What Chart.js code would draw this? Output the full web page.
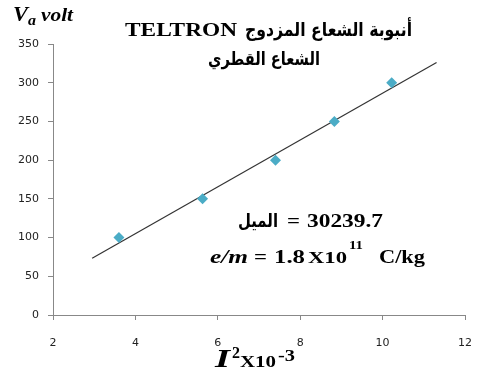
<!DOCTYPE html>
<html>
<head>
<meta charset="utf-8">
<script src="https://cdn.jsdelivr.net/npm/chart.js@4/dist/chart.umd.min.js"></script>
<style>
  html, body { margin: 0; padding: 0; background: #fff; }
  #wrap { width: 477px; height: 374px; position: relative; }
</style>
</head>
<body>
<div id="wrap"><canvas id="c" width="477" height="374"></canvas></div>
<script>
// Measurements: squared coil current (×10⁻³) against accelerating voltage
const currentSq = [3.60, 5.63, 7.40, 8.83, 10.22];
const voltage = [100, 150, 200, 250, 300];

// Fitted slope (quoted in the annotation as 30239.7) and the span of the fit line
const slopeLabel = '30239.7';
const fitSlope = parseFloat(slopeLabel) / 1000;
const fitRange = [2.95, 11.31];

const xTicks = [2, 4, 6, 8, 10, 12];
const yTicks = [0, 50, 100, 150, 200, 250, 300, 350];

// Least-squares line passes through the mean point
const meanX = currentSq.reduce((a, b) => a + b, 0) / currentSq.length;
const meanY = voltage.reduce((a, b) => a + b, 0) / voltage.length;
const fitIntercept = meanY - fitSlope * meanX;
const fitLine = fitRange.map(x => ({ x: x, y: fitIntercept + fitSlope * x }));

const points = currentSq.map((x, i) => ({ x: x, y: voltage[i] }));

const SERIF = "'Liberation Serif', 'DejaVu Serif', serif";
const ARABIC = "'DejaVu Sans', sans-serif";

// draws a run of text stretched to fill [x0, x1] on the given baseline
function span(ctx, text, font, x0, x1, baseline) {
  ctx.font = font;
  const w = ctx.measureText(text).width;
  ctx.save();
  ctx.translate(x0, baseline);
  ctx.scale((x1 - x0) / w, 1);
  ctx.textAlign = 'left';
  ctx.textBaseline = 'alphabetic';
  ctx.fillText(text, 0, 0);
  ctx.restore();
}

const labelsPlugin = {
  id: 'labels',
  afterDraw(chart) {
    const ctx = chart.ctx;
    ctx.save();
    ctx.fillStyle = '#000';

    // y axis title: V_a volt
    span(ctx, 'V', `italic bold 20px ${SERIF}`, 13, 28, 21);
    span(ctx, 'a', `italic bold 14px ${SERIF}`, 28, 36, 25);
    span(ctx, 'volt', `italic bold 18px ${SERIF}`, 41, 73, 21);

    // title
    span(ctx, 'TELTRON', `bold 18px ${SERIF}`, 125, 237, 36);
    span(ctx, 'أنبوبة الشعاع المزدوج', `bold 19px ${ARABIC}`, 245, 412, 36);
    span(ctx, 'الشعاع القطري', `bold 18px ${ARABIC}`, 208, 320, 65);

    // slope annotation
    span(ctx, 'الميل', `bold 19px ${ARABIC}`, 238, 278, 227);
    span(ctx, '=', `bold 19px ${SERIF}`, 287, 300, 227);
    span(ctx, slopeLabel, `bold 19px ${SERIF}`, 307, 383, 227);

    // e/m result
    span(ctx, 'e/m', `italic bold 19px ${SERIF}`, 210, 248, 263);
    span(ctx, '=', `bold 19px ${SERIF}`, 254, 267, 263);
    span(ctx, '1.8', `bold 19px ${SERIF}`, 274, 305, 263);
    span(ctx, 'X10', `bold 17px ${SERIF}`, 308, 347, 263);
    span(ctx, '11', `bold 12px ${SERIF}`, 349, 363, 249);
    span(ctx, 'C/kg', `bold 19px ${SERIF}`, 379, 425, 263);

    // x axis title: I² ×10⁻³
    span(ctx, 'I', `italic bold 26px ${SERIF}`, 215, 230, 367);
    span(ctx, '2', `bold 16px ${SERIF}`, 232, 240, 358);
    span(ctx, 'X10', `bold 16px ${SERIF}`, 240, 276, 367);
    span(ctx, '-3', `bold 16px ${SERIF}`, 278, 295, 361);

    ctx.restore();
  }
};

const tickFont = { family: "'DejaVu Sans', sans-serif", size: 11 };

new Chart(document.getElementById('c'), {
  type: 'scatter',
  data: {
    datasets: [
      {
        type: 'line',
        data: fitLine,
        borderColor: '#333333',
        borderWidth: 1.2,
        pointRadius: 0,
        fill: false,
        order: 2
      },
      {
        data: points,
        pointStyle: 'rectRot',
        pointRadius: 5.5,
        backgroundColor: '#4BACC6',
        borderColor: '#4BACC6',
        borderWidth: 0,
        order: 1
      }
    ]
  },
  options: {
    responsive: false,
    animation: false,
    events: [],
    layout: { padding: { top: 44, right: 12, left: 0, bottom: 0 } },
    plugins: { legend: { display: false }, tooltip: { enabled: false }, title: { display: false } },
    scales: {
      x: {
        type: 'linear',
        min: 2,
        max: 12,
        afterBuildTicks: s => { s.ticks = xTicks.map(v => ({ value: v })); },
        afterFit: s => { s.height = 59; s.paddingLeft = 0; s.paddingRight = 0; },
        ticks: { font: tickFont, color: '#222', padding: 17, maxRotation: 0 },
        grid: { drawOnChartArea: false, drawTicks: true, tickLength: 5, color: '#888' },
        border: { color: '#888', width: 1 }
      },
      y: {
        type: 'linear',
        min: 0,
        max: 350,
        afterBuildTicks: s => { s.ticks = yTicks.map(v => ({ value: v })); },
        afterFit: s => { s.width = 53; s.paddingTop = 0; s.paddingBottom = 0; },
        ticks: { font: tickFont, color: '#222', padding: 9 },
        grid: { drawOnChartArea: false, drawTicks: true, tickLength: 5, color: '#888' },
        border: { color: '#888', width: 1 }
      }
    }
  },
  plugins: [labelsPlugin]
});
</script>
</body>
</html>
